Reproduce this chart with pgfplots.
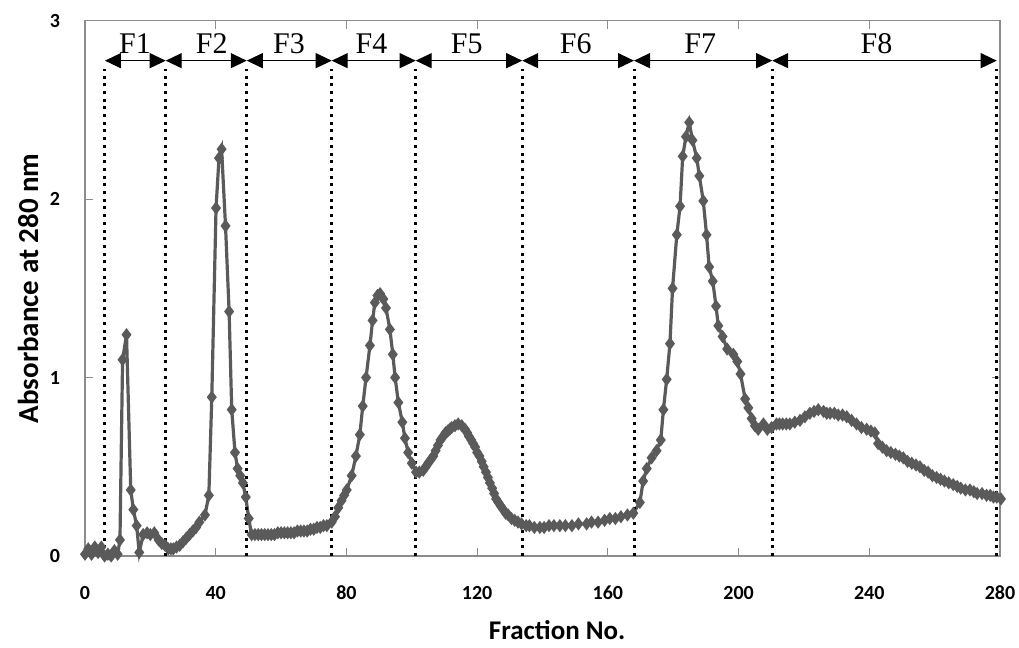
\documentclass[border=0pt]{standalone}
\usepackage{fontspec}
\setmainfont{Carlito}
\newfontfamily\serifF{Liberation Serif}
\usepackage{pgfplots}
\pgfplotsset{compat=1.18}
\usetikzlibrary{arrows.meta}
\definecolor{curve}{HTML}{5A5A5A}
\definecolor{framec}{HTML}{8C8C8C}

\pgfplotstableread{
x y
0 0.01
1 0.04
2 0.01
3 0.05
4 0.02
5 0.05
6 0.00
7 0.01
8 0.00
9 0.03
10 0.01
10.7 0.09
11.5 1.10
12.7 1.24
14.0 0.37
14.8 0.26
15.8 0.17
16.6 0.02
17.8 0.12
19 0.13
20 0.12
21.2 0.13
22.5 0.09
23.5 0.07
24.5 0.06
25.5 0.04
26.3 0.04
27 0.04
28 0.05
29 0.06
30 0.08
31 0.10
32 0.12
33 0.14
34 0.16
35 0.19
36.7 0.23
37.9 0.34
38.8 0.89
40.1 1.95
41.0 2.23
41.8 2.28
43.0 1.85
44.1 1.37
44.9 0.82
45.9 0.58
46.7 0.49
47.5 0.45
48.3 0.41
49.2 0.33
50.1 0.21
51 0.12
52 0.12
53 0.12
54 0.12
55 0.12
56 0.12
57 0.12
58 0.12
59 0.13
60 0.13
61 0.13
62 0.13
63 0.13
64 0.13
65 0.14
66 0.14
67 0.14
68 0.14
69 0.15
70 0.15
71 0.16
72 0.16
73 0.17
74 0.17
75.5 0.19
76.5 0.22
77.5 0.27
78.5 0.31
79.3 0.34
80.1 0.37
81.6 0.45
82.9 0.56
84.1 0.68
85.0 0.84
86.0 1.00
87.2 1.18
88.0 1.32
88.7 1.42
89.5 1.46
90.3 1.47
91.3 1.44
92.1 1.39
93.3 1.27
94.2 1.13
94.9 1.00
95.9 0.86
97.1 0.75
97.9 0.66
98.9 0.58
100 0.52
101.3 0.47
102.3 0.47
103.5 0.48
104.3 0.50
105 0.52
105.8 0.54
106.6 0.56
107.3 0.59
108 0.62
108.8 0.65
109.6 0.67
110.3 0.69
111 0.70
111.6 0.71
112.2 0.72
113.2 0.73
114.2 0.74
115.3 0.73
116.3 0.71
117.0 0.69
117.5 0.67
118.2 0.65
118.8 0.63
119.4 0.61
120 0.58
120.7 0.56
121.4 0.53
122 0.50
122.7 0.47
123.3 0.44
123.9 0.41
124.6 0.38
125.2 0.35
125.8 0.32
126.5 0.30
127.2 0.28
128 0.26
128.7 0.24
129.5 0.23
130.5 0.21
131.5 0.20
132.5 0.19
133.6 0.18
135 0.17
136 0.17
137.5 0.16
139.2 0.16
140.5 0.16
142 0.17
143.5 0.17
145.3 0.17
147 0.17
149 0.17
151 0.18
153.5 0.18
155 0.19
157 0.19
159 0.20
160.6 0.21
162.3 0.21
164 0.22
166 0.23
167.8 0.24
169.8 0.30
170.8 0.42
171.9 0.49
173.4 0.55
174.9 0.59
176.2 0.65
177.0 0.82
178.0 0.99
179.0 1.19
179.8 1.50
181.1 1.80
182.1 1.96
182.9 2.24
183.9 2.35
184.9 2.43
185.9 2.33
187.2 2.23
188.0 2.13
189.2 1.99
190.2 1.80
191.0 1.62
192.1 1.54
193.1 1.40
193.8 1.29
195.1 1.23
196.5 1.16
198.4 1.13
199.6 1.09
200.6 1.02
202.0 0.88
203.0 0.83
204.0 0.77
205 0.73
206.0 0.71
207.6 0.74
208.8 0.71
210.1 0.72
211.6 0.74
212.5 0.74
213.5 0.74
214.6 0.74
215.7 0.74
217.2 0.75
218.8 0.76
220.3 0.78
221.8 0.80
223.1 0.81
224.4 0.82
226 0.81
227 0.80
228.0 0.80
229.3 0.80
230.5 0.79
231.8 0.79
233.1 0.78
234.6 0.76
236.1 0.74
237.6 0.72
239.2 0.71
240.5 0.70
241.7 0.69
242.7 0.63
244 0.61
245.3 0.59
246.6 0.58
248 0.57
249.2 0.56
250.4 0.55
251.7 0.53
253 0.52
254.3 0.51
255.5 0.50
256.8 0.48
258 0.47
259.3 0.45
260.6 0.44
261.8 0.43
263 0.42
264.3 0.41
265.7 0.40
266.9 0.39
268 0.38
269.4 0.37
270.8 0.37
272 0.36
273 0.35
274.5 0.35
275.9 0.34
277 0.34
278 0.33
279 0.33
280.3 0.32
}\absdata

\begin{document}
\begin{tikzpicture}
\useasboundingbox (-42.5pt,-46pt) rectangle (467pt,278pt);
\begin{axis}[
  at={(0,0)}, anchor=south west,
  width=457.5pt, height=267.65pt, scale only axis,
  xmin=0, xmax=280, ymin=0, ymax=3,
  xtick={0,40,...,280}, ytick={0,1,2,3},
  axis line style={framec, line width=0.75pt},
  tick style={framec, line width=0.6pt},
  major tick length=4pt,
  tick align=inside,
  /pgf/number format/assume math mode=true,
  ticklabel style={font=\bfseries\fontsize{10}{12}\selectfont, text=black},
  xticklabel style={anchor=center, yshift=-18.3pt},
  yticklabel style={anchor=center, xshift=-15pt},
  xlabel={Fraction No.},
  ylabel={Absorbance at 280 nm},
  every axis x label/.style={at={(axis description cs:0.516,-0.139)}, anchor=center, font=\bfseries\fontsize{13.5}{16}\selectfont},
  every axis y label/.style={at={(axis description cs:-0.0623,0.5)}, anchor=center, rotate=90, font=\bfseries\fontsize{14.5}{16}\selectfont},
  clip=false,
]
\addplot[curve, line width=1.6pt, mark=diamond*, mark size=2pt, mark options={curve, solid}] table[x=x,y=y] {\absdata};

\foreach \xx in {6.1,24.7,49.5,75.5,101.2,133.8,168.0,210.3,279.0} {
  \edef\tmp{\noexpand\draw[black, line width=1.5pt, dash pattern=on 1.5pt off 2.35pt] (axis cs:\xx,0) -- (axis cs:\xx,2.73);}
  \tmp
}
\draw[{Triangle[length=8pt,width=7.5pt]}-{Triangle[length=8pt,width=7.5pt]}, line width=0.6pt] (axis cs:6.1,2.776) -- (axis cs:24.7,2.776);
\draw[{Triangle[length=8pt,width=7.5pt]}-{Triangle[length=8pt,width=7.5pt]}, line width=0.6pt] (axis cs:24.7,2.776) -- (axis cs:49.5,2.776);
\draw[{Triangle[length=8pt,width=7.5pt]}-{Triangle[length=8pt,width=7.5pt]}, line width=0.6pt] (axis cs:49.5,2.776) -- (axis cs:75.5,2.776);
\draw[{Triangle[length=8pt,width=7.5pt]}-{Triangle[length=8pt,width=7.5pt]}, line width=0.6pt] (axis cs:75.5,2.776) -- (axis cs:101.2,2.776);
\draw[{Triangle[length=8pt,width=7.5pt]}-{Triangle[length=8pt,width=7.5pt]}, line width=0.6pt] (axis cs:101.2,2.776) -- (axis cs:133.8,2.776);
\draw[{Triangle[length=8pt,width=7.5pt]}-{Triangle[length=8pt,width=7.5pt]}, line width=0.6pt] (axis cs:133.8,2.776) -- (axis cs:168.0,2.776);
\draw[{Triangle[length=8pt,width=7.5pt]}-{Triangle[length=8pt,width=7.5pt]}, line width=0.6pt] (axis cs:168.0,2.776) -- (axis cs:210.3,2.776);
\draw[{Triangle[length=8pt,width=7.5pt]}-{Triangle[length=8pt,width=7.5pt]}, line width=0.6pt] (axis cs:210.3,2.776) -- (axis cs:279.0,2.776);

\node[font=\serifF\fontsize{15}{16}\selectfont, anchor=base] at (axis cs:15.3,2.816) {F1};
\node[font=\serifF\fontsize{15}{16}\selectfont, anchor=base] at (axis cs:38.8,2.816) {F2};
\node[font=\serifF\fontsize{15}{16}\selectfont, anchor=base] at (axis cs:62.4,2.816) {F3};
\node[font=\serifF\fontsize{15}{16}\selectfont, anchor=base] at (axis cs:87.7,2.816) {F4};
\node[font=\serifF\fontsize{15}{16}\selectfont, anchor=base] at (axis cs:116.8,2.816) {F5};
\node[font=\serifF\fontsize{15}{16}\selectfont, anchor=base] at (axis cs:150.2,2.816) {F6};
\node[font=\serifF\fontsize{15}{16}\selectfont, anchor=base] at (axis cs:188.3,2.816) {F7};
\node[font=\serifF\fontsize{15}{16}\selectfont, anchor=base] at (axis cs:242.2,2.816) {F8};
\end{axis}
\end{tikzpicture}
\end{document}
